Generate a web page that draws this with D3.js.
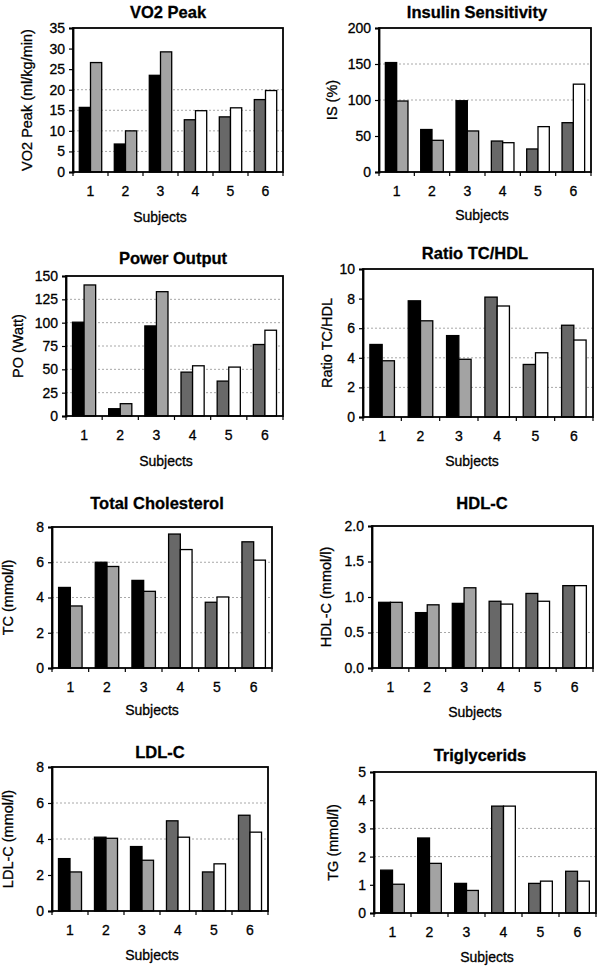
<!DOCTYPE html>
<html>
<head>
<meta charset="utf-8">
<script src="https://cdn.jsdelivr.net/npm/d3@7"></script>
<style>
  body { margin: 0; background: #fff; }
  svg { font-family: "Liberation Sans", Arial, sans-serif; }
</style>
</head>
<body>
<div class="chart"></div>
<script>
var svgWidth = 600;
var svgHeight = 967;

// data
var subjects = ["1", "2", "3", "4", "5", "6"];
var groupOf = ["A", "A", "A", "B", "B", "B"];

var titles = ["VO2 Peak", "Insulin Sensitivity", "Power Output", "Ratio TC/HDL",
  "Total Cholesterol", "HDL-C", "LDL-C", "Triglycerids"];
var yLabels = ["VO2 Peak (ml/kg/min)", "IS (%)", "PO (Watt)", "Ratio TC/HDL",
  "TC (mmol/l)", "HDL-C (mmol/l)", "LDL-C (mmol/l)", "TG (mmol/l)"];
var yMax = [35, 200, 150, 10, 8, 2, 8, 5];
var yStep = [5, 50, 25, 2, 2, 0.5, 2, 1];
var gridTicks = [[5, 10, 15, 20], [100, 150], [25, 50, 75, 100, 125], [2, 4, 6],
  [2, 4, 6], [0.5], [4, 6], [2, 3]];

var preValues = [
  [15.7, 6.8, 23.5, 12.7, 13.4, 17.6],
  [152, 59, 99, 43, 32, 68.5],
  [100.5, 7.8, 96.5, 47, 37.4, 76.6],
  [4.9, 7.85, 5.5, 8.1, 3.55, 6.2],
  [4.57, 6.0, 4.97, 7.6, 3.73, 7.16],
  [0.925, 0.78, 0.91, 0.94, 1.05, 1.16],
  [2.91, 4.1, 3.58, 5.01, 2.17, 5.32],
  [1.52, 2.66, 1.05, 3.79, 1.05, 1.48]
];
var postValues = [
  [26.6, 10.0, 29.2, 14.9, 15.6, 19.8],
  [98.6, 44, 57, 40.7, 63, 122],
  [140.4, 13.2, 133.2, 53.8, 52.4, 91.9],
  [3.8, 6.5, 3.9, 7.5, 4.34, 5.2],
  [3.52, 5.76, 4.35, 6.72, 4.03, 6.12],
  [0.925, 0.89, 1.13, 0.90, 0.94, 1.16],
  [2.17, 4.04, 2.82, 4.1, 2.62, 4.38],
  [1.02, 1.76, 0.8, 3.79, 1.13, 1.13]
];

// layout of each panel (plot frame, title, axis titles)
var frames = [
  {l: 73, r: 283, t: 28, b: 172, tx: 168, ty: 18, sx: 160, sy: 222, yx: 27},
  {l: 379, r: 591, t: 28, b: 172, tx: 477, ty: 18, sx: 482, sy: 220, yx: 332},
  {l: 66, r: 283, t: 276, b: 416, tx: 173, ty: 264, sx: 166, sy: 466, yx: 18},
  {l: 363, r: 593, t: 269, b: 417, tx: 475, ty: 259, sx: 472, sy: 466, yx: 327},
  {l: 52, r: 272, t: 527, b: 668, tx: 157, ty: 509, sx: 152, sy: 715, yx: 8},
  {l: 372, r: 593, t: 526, b: 668, tx: 482, ty: 509, sx: 475, sy: 717, yx: 326},
  {l: 52, r: 268, t: 767, b: 911, tx: 160, ty: 758, sx: 152, sy: 960, yx: 8},
  {l: 374, r: 596, t: 772, b: 913, tx: 480, ty: 761, sx: 487, sy: 962, yx: 333}
];

var colors = {A: ["#000000", "#a3a3a3"], B: ["#686868", "#ffffff"]};

var svg = d3.select(".chart")
  .append("svg")
  .attr("width", svgWidth)
  .attr("height", svgHeight);

// scanned text looks a bit heavy, so give it a thin outline
function inkText(sel, size) {
  sel.attr("font-size", size)
    .attr("fill", "#000")
    .attr("stroke", "#000")
    .attr("stroke-width", 0.3)
    .attr("font-family", "Liberation Sans, Arial, sans-serif");
}

frames.forEach(function(f, i) {
  var g = svg.append("g");

  var x = d3.scaleBand()
    .domain(subjects)
    .range([f.l, f.r])
    .paddingInner(0.36)
    .paddingOuter(0.18);

  var xSeries = d3.scaleBand()
    .domain([0, 1])
    .range([0, x.bandwidth()]);

  var xEdge = d3.scaleLinear().domain([0, subjects.length]).range([f.l, f.r]);

  var y = d3.scaleLinear()
    .domain([0, yMax[i]])
    .range([f.b, f.t]);

  // gridlines
  g.selectAll(".grid")
    .data(gridTicks[i])
    .join("line")
      .attr("x1", f.l).attr("x2", f.r)
      .attr("y1", d => y(d)).attr("y2", d => y(d))
      .attr("stroke", "#a8a8a8")
      .attr("stroke-width", 1)
      .attr("stroke-dasharray", "2,2");

  // bars
  var rows = subjects.map(function(s, j) {
    return {s: s, grp: groupOf[j], vals: [preValues[i][j], postValues[i][j]]};
  });

  g.selectAll(".subject")
    .data(rows)
    .join("g")
      .attr("transform", d => `translate(${x(d.s)},0)`)
    .selectAll("rect")
    .data(d => d.vals.map((v, k) => ({v: v, k: k, grp: d.grp})))
    .join("rect")
      .attr("x", d => xSeries(d.k))
      .attr("width", xSeries.bandwidth())
      .attr("y", d => y(d.v))
      .attr("height", d => y(0) - y(d.v))
      .attr("fill", d => colors[d.grp][d.k])
      .attr("stroke", "#000")
      .attr("stroke-width", 1.3);

  // frame
  g.append("rect")
    .attr("x", f.l).attr("y", f.t)
    .attr("width", f.r - f.l).attr("height", f.b - f.t)
    .attr("fill", "none")
    .attr("stroke", "#000")
    .attr("stroke-width", 1.8);

  // y axis
  var fmt = yStep[i] < 1 ? d3.format(".1f") : d3.format("d");
  var yAxis = g.append("g")
    .attr("transform", `translate(${f.l},0)`)
    .call(d3.axisLeft(y)
      .tickValues(d3.range(0, yMax[i] + yStep[i] / 2, yStep[i]))
      .tickSize(4)
      .tickPadding(4)
      .tickFormat(fmt));
  yAxis.select(".domain").attr("stroke-width", 1.8);
  yAxis.selectAll(".tick line").attr("stroke-width", 1.2);
  yAxis.selectAll("text").call(inkText, 14);

  // x axis: labels at category centres, ticks at category edges
  var xAxis = g.append("g")
    .attr("transform", `translate(0,${f.b})`)
    .call(d3.axisBottom(x).tickSize(0).tickPadding(14));
  xAxis.select(".domain").remove();
  xAxis.selectAll("text").call(inkText, 14);

  g.selectAll(".xtick")
    .data(d3.range(subjects.length + 1))
    .join("line")
      .attr("x1", d => xEdge(d)).attr("x2", d => xEdge(d))
      .attr("y1", f.b).attr("y2", f.b + 4)
      .attr("stroke", "#000")
      .attr("stroke-width", 1.2);

  // titles
  g.append("text")
    .attr("x", f.tx).attr("y", f.ty)
    .attr("text-anchor", "middle")
    .attr("font-weight", "bold")
    .text(titles[i])
    .call(inkText, 16.5);

  g.append("text")
    .attr("x", f.sx).attr("y", f.sy)
    .attr("text-anchor", "middle")
    .text("Subjects")
    .call(inkText, 14);

  g.append("text")
    .attr("transform", `translate(${f.yx},${(f.t + f.b) / 2}) rotate(-90)`)
    .attr("text-anchor", "middle")
    .attr("dy", "0.35em")
    .text(yLabels[i])
    .call(inkText, 14.5);
});
</script>
</body>
</html>
